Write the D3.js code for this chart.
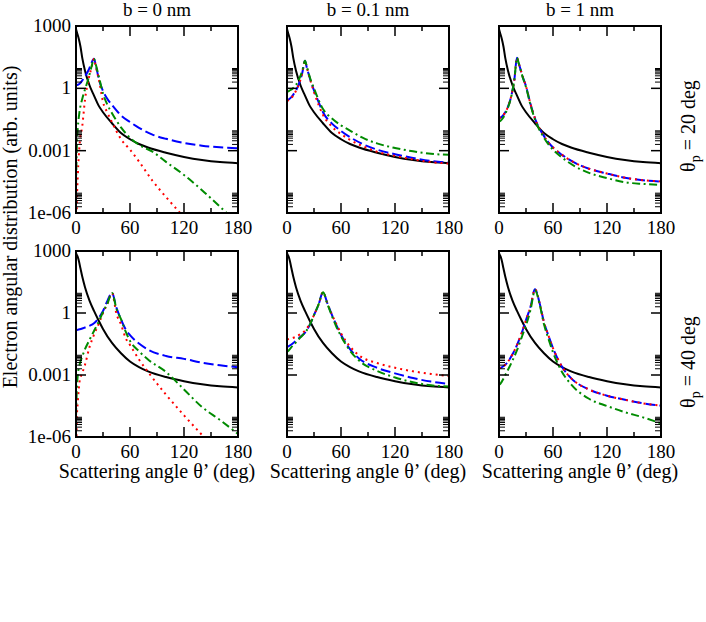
<!DOCTYPE html>
<html><head><meta charset="utf-8">
<script src="https://cdn.jsdelivr.net/npm/d3@7"></script>
<style>
body{margin:0;background:#fff}
svg{display:block}
text{font-family:"Liberation Serif","Times New Roman",serif;fill:#000}
</style>
</head><body>
<svg id="c" width="706" height="622"></svg>
<script>
// ---------- data ----------
const columnTitles = ["b = 0 nm", "b = 0.1 nm", "b = 1 nm"];
const rowAngles = ["20", "40"];
const xMajorTicks = [0, 60, 120, 180];
const xMinorTicks = [30, 90, 150];
const yMajorTicks = [1000, 1, 0.001, 1e-6];
const yTickLabels = ["1000", "1", "0.001", "1e-06"];
const yMinorDecades = [1e-6, 1e-3, 1];

const anglesBlack = [0,1,2,3,5,7,10,15,20,25,30,40,50,60,70,80,100,120,140,160,180];
const blackP20 = [708,501,355,251,100,28.2,7.08,1.41,0.447,0.151,0.0708,0.0209,7.08e-3,3.55e-3,2.09e-3,1.41e-3,7.94e-4,5.01e-4,3.55e-4,2.82e-4,2.51e-4];
const blackP40 = [794,631,501,355,141,56.2,17.8,3.98,1.26,0.447,0.17,0.0355,0.0112,4.47e-3,2.4e-3,1.51e-3,7.94e-4,5.01e-4,3.55e-4,2.82e-4,2.51e-4];

const angles20 = [0,1,2,4,7,10,14,17,20,22,26,30,35,40,50,60,70,85,100,120,140,160,180];
const blueB0P20  = [1.41,1.45,1.48,1.66,2.4,3.8,7.59,15.8,26.3,12.6,2.24,0.741,0.302,0.158,0.0501,0.024,0.0126,5.89e-3,3.72e-3,2.34e-3,1.74e-3,1.45e-3,1.32e-3];
const redB0P20   = [1e-9,3.16e-6,6.31e-5,2.0e-3,0.0158,0.282,2.82,8.91,26.3,11.2,2.0,0.224,0.0661,0.0234,3.55e-3,1.12e-3,3.02e-4,3.55e-5,5.89e-6,6.31e-7,7.94e-8,1e-8,1.58e-9];
const greenB0P20 = [1.78e-5,2.51e-3,0.0126,0.0794,0.316,0.891,3.16,10,26.3,14.1,2.82,0.562,0.158,0.0631,0.0132,4.17e-3,1.91e-3,8.91e-4,2.88e-4,6.76e-5,1.26e-5,2.0e-6,3.16e-7];
const blueB01P20  = [0.275,0.282,0.295,0.347,0.501,0.794,2.0,5.62,21.4,10,2.51,0.794,0.224,0.0708,0.02,8.91e-3,4.47e-3,2.0e-3,1.12e-3,6.76e-4,4.47e-4,3.16e-4,2.63e-4];
const redB01P20   = [0.251,0.257,0.269,0.316,0.457,0.759,1.91,5.62,21.4,10,2.4,0.661,0.166,0.0525,0.0141,6.31e-3,3.31e-3,1.58e-3,8.91e-4,5.62e-4,3.8e-4,2.82e-4,2.4e-4];
const greenB01P20 = [0.692,0.708,0.741,0.832,1.05,1.45,3.16,7.08,21.4,11.2,2.82,1.0,0.282,0.1,0.0355,0.0166,9.33e-3,3.98e-3,2.24e-3,1.35e-3,9.33e-4,7.08e-4,6.31e-4];
const blueB1P20  = [0.0372,0.038,0.0398,0.0468,0.0708,0.132,0.501,2.51,29.5,15.8,3.98,1.26,0.178,0.0355,5.01e-3,1.41e-3,6.31e-4,2.51e-4,1.35e-4,7.94e-5,5.01e-5,3.8e-5,3.24e-5];
const redB1P20   = [0.0363,0.038,0.0398,0.0468,0.0708,0.132,0.501,2.51,29.5,15.8,3.98,1.26,0.178,0.0355,5.01e-3,1.41e-3,6.31e-4,2.51e-4,1.35e-4,7.94e-5,5.01e-5,3.8e-5,3.3e-5];
const greenB1P20 = [0.0251,0.0263,0.0282,0.0355,0.0603,0.12,0.479,2.51,29.5,15.8,3.8,1.15,0.158,0.0316,4.17e-3,1.12e-3,4.68e-4,1.7e-4,8.51e-5,4.79e-5,3.02e-5,2.51e-5,2.24e-5];

const angles40 = [0,1,2,4,7,10,15,20,25,30,35,40,45,50,55,60,70,80,100,120,140,160,180];
const blueB0P40  = [0.151,0.151,0.155,0.162,0.178,0.2,0.24,0.316,0.562,1.26,3.98,9.33,1.78,0.49,0.166,0.0851,0.0331,0.017,8.32e-3,6.03e-3,3.98e-3,2.95e-3,2.4e-3];
const redB0P40   = [1e-8,1e-5,5.01e-5,5.01e-4,1.26e-3,3.16e-3,0.0224,0.0891,0.282,1.0,2.82,9.33,0.891,0.282,0.0631,0.0282,5.62e-3,1.41e-3,1.12e-4,1.12e-5,1.26e-6,1.58e-7,2.0e-8];
const greenB0P40 = [1e-5,2.51e-4,1e-3,3.16e-3,7.94e-3,0.0178,0.0501,0.135,0.355,1.12,2.95,9.33,1.58,0.501,0.132,0.0447,0.0141,5.62e-3,1.41e-3,2.0e-4,2.82e-5,6.61e-6,1.41e-6];
const blueB01P40  = [0.0234,0.024,0.0251,0.0282,0.0355,0.0447,0.0708,0.112,0.251,0.794,2.51,10,2.82,0.794,0.251,0.0891,0.0178,6.31e-3,2.24e-3,1.2e-3,7.08e-4,4.79e-4,3.72e-4];
const redB01P40   = [0.0537,0.0537,0.055,0.0575,0.0631,0.0708,0.0955,0.141,0.282,0.794,2.51,10,2.82,0.832,0.282,0.105,0.024,8.91e-3,3.8e-3,2.24e-3,1.51e-3,1.12e-3,8.91e-4];
const greenB01P40 = [0.0135,0.0141,0.0158,0.02,0.0282,0.038,0.0661,0.112,0.251,0.794,2.51,10,2.63,0.708,0.209,0.0759,0.0151,5.01e-3,1.58e-3,7.59e-4,4.47e-4,3.16e-4,2.75e-4];
const blueB1P40  = [2.09e-3,2.14e-3,2.24e-3,2.51e-3,3.16e-3,4.47e-3,0.01,0.0282,0.1,0.457,2.0,14.1,3.16,0.355,0.0794,0.02,2.51e-3,7.08e-4,2.0e-4,1e-4,6.31e-5,4.27e-5,3.31e-5];
const redB1P40   = [2.09e-3,2.14e-3,2.24e-3,2.51e-3,3.16e-3,4.47e-3,0.01,0.0282,0.1,0.457,2.0,14.1,3.16,0.355,0.0794,0.02,2.51e-3,7.08e-4,2.0e-4,1e-4,6.31e-5,4.27e-5,3.31e-5];
const greenB1P40 = [3.31e-4,3.55e-4,3.98e-4,5.62e-4,1e-3,1.78e-3,5.01e-3,0.0158,0.0631,0.251,1.41,12.6,2.82,0.282,0.0562,0.0126,1.41e-3,3.55e-4,7.08e-5,3.16e-5,1.58e-5,8.91e-6,4.57e-6];

// ---------- layout ----------
const svg = d3.select("#c");
svg.append("rect").attr("width",706).attr("height",622).attr("fill","#fff");
const colX = [76, 287, 499], PW = 162;
const rowY = [26, 251], PH = [187, 186];
const TICK_FS = 19, TITLE_FS = 19, AXIS_FS = 20;

const rows = [
  { angles: angles20, black: blackP20, cols: [
      {blue: blueB0P20, red: redB0P20, green: greenB0P20},
      {blue: blueB01P20, red: redB01P20, green: greenB01P20},
      {blue: blueB1P20, red: redB1P20, green: greenB1P20}] },
  { angles: angles40, black: blackP40, cols: [
      {blue: blueB0P40, red: redB0P40, green: greenB0P40},
      {blue: blueB01P40, red: redB01P40, green: greenB01P40},
      {blue: blueB1P40, red: redB1P40, green: greenB1P40}] }
];

const styles = {
  black: {color: "#000000", dash: null},
  blue:  {color: "#0000ff", dash: "10,4"},
  red:   {color: "#ff0000", dash: "2,4"},
  green: {color: "#008b00", dash: "8,3.5,2,3.5"}
};

const defs = svg.append("defs");

rows.forEach((row, r) => {
  row.cols.forEach((col, c) => {
    const x0 = colX[c], y0 = rowY[r], h = PH[r];
    const x = d3.scaleLinear().domain([0, 180]).range([x0, x0 + PW]);
    const y = d3.scaleLog().domain([1e-6, 1000]).range([y0 + h, y0]);
    const id = `clip${r}${c}`;
    defs.append("clipPath").attr("id", id).append("rect")
      .attr("x", x0).attr("y", y0).attr("width", PW).attr("height", h);
    const g = svg.append("g");
    const lg = g.append("g").attr("clip-path", `url(#${id})`);
    const line = d3.line().x(d => x(d[0])).y(d => y(d[1])).curve(d3.curveMonotoneX);
    const series = [
      ["black", anglesBlack, row.black],
      ["blue", row.angles, col.blue],
      ["red", row.angles, col.red],
      ["green", row.angles, col.green]
    ];
    series.forEach(([key, xs, ys]) => {
      const st = styles[key];
      lg.append("path")
        .datum(xs.map((a, i) => [a, ys[i]]))
        .attr("d", line)
        .attr("fill", "none")
        .attr("stroke", st.color)
        .attr("stroke-width", 2)
        .attr("stroke-dasharray", st.dash);
    });

    // ticks
    const tk = g.append("g").attr("stroke", "#000").attr("stroke-width", 1.5);
    xMajorTicks.forEach(v => {
      tk.append("line").attr("x1", x(v)).attr("x2", x(v)).attr("y1", y0 + h).attr("y2", y0 + h - 10);
      tk.append("line").attr("x1", x(v)).attr("x2", x(v)).attr("y1", y0).attr("y2", y0 + 10);
    });
    xMinorTicks.forEach(v => {
      tk.append("line").attr("x1", x(v)).attr("x2", x(v)).attr("y1", y0 + h).attr("y2", y0 + h - 5);
      tk.append("line").attr("x1", x(v)).attr("x2", x(v)).attr("y1", y0).attr("y2", y0 + 5);
    });
    yMajorTicks.forEach(v => {
      tk.append("line").attr("x1", x0).attr("x2", x0 + 10).attr("y1", y(v)).attr("y2", y(v));
      tk.append("line").attr("x1", x0 + PW).attr("x2", x0 + PW - 10).attr("y1", y(v)).attr("y2", y(v));
    });
    yMinorDecades.forEach(base => {
      d3.range(2, 10).forEach(k => {
        const v = base * k;
        tk.append("line").attr("x1", x0).attr("x2", x0 + 6).attr("y1", y(v)).attr("y2", y(v)).attr("stroke-width", 1);
        tk.append("line").attr("x1", x0 + PW).attr("x2", x0 + PW - 6).attr("y1", y(v)).attr("y2", y(v)).attr("stroke-width", 1);
      });
    });

    // frame
    g.append("rect").attr("x", x0).attr("y", y0).attr("width", PW).attr("height", h)
      .attr("fill", "none").attr("stroke", "#000").attr("stroke-width", 2);

    // x tick labels
    xMajorTicks.forEach(v => {
      g.append("text").attr("x", x(v)).attr("y", y0 + h + 21)
        .attr("text-anchor", "middle").attr("font-size", TICK_FS).text(v);
    });
    // y tick labels (left column only)
    if (c === 0) {
      yMajorTicks.forEach((v, i) => {
        g.append("text").attr("x", x0 - 5).attr("y", y(v) + 6)
          .attr("text-anchor", "end").attr("font-size", TICK_FS).text(yTickLabels[i]);
      });
    }
    // column titles
    if (r === 0) {
      g.append("text").attr("x", x0 + PW / 2).attr("y", 16)
        .attr("text-anchor", "middle").attr("font-size", TITLE_FS).text(columnTitles[c]);
    }
    // x axis titles
    if (r === 1) {
      g.append("text").attr("x", x0 + PW / 2).attr("y", 478)
        .attr("text-anchor", "middle").attr("font-size", AXIS_FS).text("Scattering angle θ’ (deg)");
    }
  });
});

// y axis title
svg.append("text")
  .attr("transform", "translate(17,227) rotate(-90)")
  .attr("text-anchor", "middle").attr("font-size", AXIS_FS)
  .text("Electron angular distribution (arb. units)");

// row labels on the right
const rowLabelCenters = [126, 362];
rowAngles.forEach((a, r) => {
  const t = svg.append("text")
    .attr("transform", `translate(695,${rowLabelCenters[r]}) rotate(-90)`)
    .attr("text-anchor", "middle").attr("font-size", AXIS_FS);
  t.append("tspan").text("θ");
  t.append("tspan").attr("font-size", 14).attr("dy", 5).text("p");
  t.append("tspan").attr("dy", -5).text(` = ${a} deg`);
});
</script>
</body></html>
